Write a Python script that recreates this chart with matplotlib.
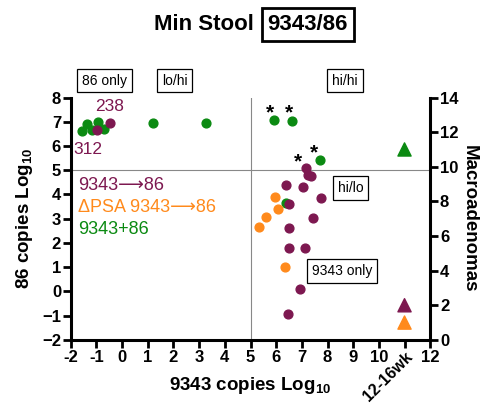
import matplotlib.pyplot as plt

plt.rcParams['font.family'] = ['Liberation Sans', 'DejaVu Sans']
plt.rcParams['mathtext.fontset'] = 'custom'
plt.rcParams['mathtext.rm'] = 'Liberation Sans'
plt.rcParams['mathtext.bf'] = 'Liberation Sans:bold'

maroon = '#7d1850'
orange = '#ff8a1c'
green = '#0b8a12'

# 9343->86 (maroon)
x_maroon = [-0.99, -0.48, 7.17, 7.25, 7.34, 6.40, 7.05, 7.75, 6.51, 6.49, 7.45, 6.49, 7.14, 6.92, 6.47]
y_maroon = [6.65, 6.93, 5.10, 4.82, 4.77, 4.39, 4.31, 3.84, 3.60, 2.62, 3.03, 1.79, 1.79, 0.10, -0.95]
# dPSA 9343->86 (orange)
x_orange = [5.95, 6.07, 5.62, 5.33, 6.33]
y_orange = [3.90, 3.38, 3.07, 2.66, 1.00]
# 9343+86 (green)
x_green = [-1.58, -1.38, -1.18, -0.96, -0.70, 1.22, 3.25, 5.91, 6.60, 7.70, 6.38]
y_green = [6.61, 6.89, 6.68, 6.97, 6.72, 6.94, 6.96, 7.09, 7.02, 5.44, 3.65]

# starred points
star_x = [5.91, 6.60, 7.70, 7.17]
star_y = [7.09, 7.02, 5.44, 5.10]
star_off = [(-3, 5), (-2, 6), (-4, 5), (-6, 4)]

# macroadenomas at 12-16wk (right axis)
macro_colors = [green, maroon, orange]
macro_vals = [11, 2, 1]
macro_x = 11

xticks = list(range(-2, 13))
xticklabels = [str(t) for t in xticks]
xticklabels[13] = '12-16wk'

fig = plt.figure(figsize=(4.85, 4.08), dpi=100)
ax = fig.add_axes([0.146, 0.167, 0.741, 0.594])
ax2 = ax.twinx()

ax.axhline(5, color='#888888', lw=0.8, zorder=1)
ax.axvline(5, color='#888888', lw=0.8, zorder=1)

ax.scatter(x_green, y_green, s=40, color=green, zorder=3, clip_on=False)
ax.scatter(x_orange, y_orange, s=40, color=orange, zorder=3)
ax.scatter(x_maroon, y_maroon, s=40, color=maroon, zorder=4)

for sx, sy, off in zip(star_x, star_y, star_off):
    ax.annotate('*', (sx, sy), xytext=off, textcoords='offset points',
                ha='center', va='center', fontsize=15, fontweight='bold')

ax2.scatter([macro_x] * 3, macro_vals, marker='^', s=90, color=macro_colors, zorder=3)

ax.set_xlim(-2, 12)
ax.set_ylim(-2, 8)
ax2.set_ylim(0, 14)
ax.set_xticks(xticks)
ax.set_xticklabels(xticklabels)
ax.set_yticks(range(-2, 9))
ax2.set_yticks(range(0, 15, 2))

for a in (ax, ax2):
    a.spines['top'].set_visible(False)
    for s in ('left', 'right', 'bottom'):
        a.spines[s].set_linewidth(2.2)
    a.tick_params(width=2, length=6, labelsize=12, pad=1)
    for t in a.get_xticklabels() + a.get_yticklabels():
        t.set_fontweight('bold')
ax.spines['right'].set_visible(False)
ax2.spines['left'].set_visible(False)
ax2.spines['bottom'].set_visible(False)

lbl = ax.get_xticklabels()[13]
lbl.set_rotation(45)
lbl.set_ha('right')
lbl.set_va('top')
lbl.set_rotation_mode('anchor')
lbl.set_fontsize(11.5)

fig.text(0.515, 0.055, '9343 copies Log$_{\\mathbf{10}}$', ha='center', va='center',
         fontsize=13.5, fontweight='bold')
ax.set_ylabel('86 copies Log$_{\\mathbf{10}}$', fontsize=13.5, fontweight='bold', labelpad=5)
ax2.set_ylabel('Macroadenomas', fontsize=13.5, fontweight='bold', rotation=270, labelpad=14)

box = dict(boxstyle='square,pad=0.35', fc='white', ec='black', lw=0.9)
for tx, ty, s in [(-0.70, 8.70, '86 only'), (2.05, 8.70, 'lo/hi'), (8.68, 8.70, 'hi/hi'),
                  (8.89, 4.26, 'hi/lo'), (8.58, 0.83, '9343 only')]:
    ax.text(tx, ty, s, ha='center', va='center', fontsize=10, bbox=box, clip_on=False)

ax.text(-0.48, 7.64, '238', color=maroon, fontsize=12.5, ha='center', va='center')
ax.text(-1.34, 5.87, '312', color=maroon, fontsize=12.5, ha='center', va='center')

ax.text(-1.73, 4.38, '9343\u27f686', color=maroon, fontsize=13, va='center')
ax.text(-1.73, 3.47, '\u0394PSA 9343\u27f686', color=orange, fontsize=13, va='center')
ax.text(-1.73, 2.56, '9343+86', color=green, fontsize=13, va='center')

fig.text(0.523, 0.94, 'Min Stool', ha='right', va='center', fontsize=16, fontweight='bold')
fig.text(0.552, 0.94, '9343/86', ha='left', va='center', fontsize=16, fontweight='bold',
         bbox=dict(boxstyle='square,pad=0.25', fc='white', ec='black', lw=2))

fig.savefig('out.png', dpi=100)
